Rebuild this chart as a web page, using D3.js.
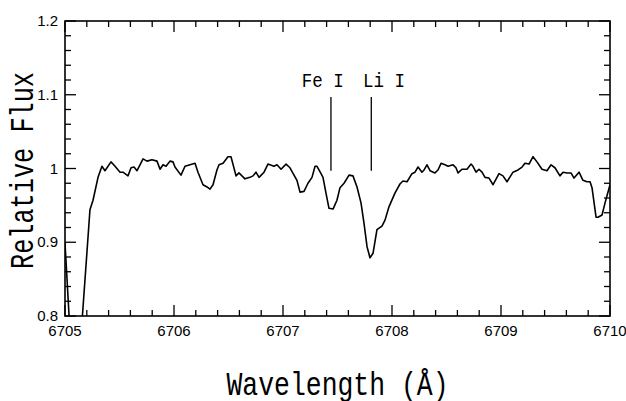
<!DOCTYPE html>
<html>
<head>
<meta charset="utf-8">
<script src="https://cdn.jsdelivr.net/npm/d3@7"></script>
</head>
<body style="margin:0">
<div id="chart"></div>
<script>
// Spectrum (wavelength in Å, relative flux)
const wavelength = [
  6705.000, 6705.045, 6705.150, 6705.229, 6705.257, 6705.303, 6705.339, 6705.367, 6705.422, 6705.459,
  6705.505, 6705.532, 6705.578, 6705.606, 6705.633, 6705.661, 6705.716, 6705.752, 6705.798, 6705.844,
  6705.872, 6705.899, 6705.927, 6705.963, 6705.991, 6706.009, 6706.064, 6706.101, 6706.147, 6706.193,
  6706.220, 6706.266, 6706.303, 6706.330, 6706.358, 6706.394, 6706.413, 6706.450, 6706.495, 6706.523,
  6706.569, 6706.596, 6706.651, 6706.697, 6706.725, 6706.752, 6706.780, 6706.826, 6706.862, 6706.917,
  6706.945, 6706.982, 6707.028, 6707.064, 6707.101, 6707.128, 6707.156, 6707.193, 6707.229, 6707.266,
  6707.294, 6707.312, 6707.349, 6707.367, 6707.394, 6707.422, 6707.459, 6707.495, 6707.523, 6707.560,
  6707.606, 6707.642, 6707.679, 6707.716, 6707.743, 6707.771, 6707.798, 6707.826, 6707.862, 6707.908,
  6707.936, 6707.972, 6708.028, 6708.073, 6708.101, 6708.138, 6708.183, 6708.211, 6708.239, 6708.275,
  6708.294, 6708.321, 6708.349, 6708.394, 6708.422, 6708.450, 6708.486, 6708.514, 6708.560, 6708.587,
  6708.606, 6708.642, 6708.688, 6708.725, 6708.743, 6708.771, 6708.798, 6708.826, 6708.853, 6708.890,
  6708.927, 6708.982, 6709.018, 6709.055, 6709.110, 6709.156, 6709.193, 6709.220, 6709.257, 6709.294,
  6709.330, 6709.376, 6709.422, 6709.459, 6709.495, 6709.541, 6709.569, 6709.606, 6709.642, 6709.670,
  6709.716, 6709.752, 6709.789, 6709.817, 6709.835, 6709.872, 6709.890, 6709.927, 6709.954, 6710.000
];
const flux = [
  0.899, 0.780, 0.780, 0.944, 0.957, 0.988, 1.003, 0.997, 1.009, 1.003,
  0.995, 0.995, 0.990, 1.001, 1.002, 0.997, 1.013, 1.010, 1.012, 1.010,
  0.999, 1.005, 1.003, 1.010, 1.009, 1.002, 0.991, 1.003, 1.005, 1.007,
  0.995, 0.978, 0.975, 0.972, 0.978, 0.998, 1.005, 1.007, 1.016, 1.016,
  0.990, 0.994, 0.986, 0.988, 0.990, 0.995, 0.988, 0.995, 1.006, 1.003,
  1.005, 0.999, 1.006, 1.001, 0.991, 0.984, 0.968, 0.969, 0.980, 0.988,
  1.003, 1.003, 0.993, 0.988, 0.967, 0.946, 0.945, 0.957, 0.974, 0.980,
  0.991, 0.990, 0.975, 0.953, 0.926, 0.894, 0.879, 0.885, 0.917, 0.922,
  0.930, 0.948, 0.967, 0.979, 0.983, 0.982, 0.993, 0.995, 1.002, 0.995,
  0.998, 1.005, 0.997, 0.994, 0.998, 1.007, 1.005, 1.003, 1.005, 1.001,
  0.994, 0.999, 0.999, 1.006, 1.003, 0.995, 0.999, 0.995, 0.988, 0.987,
  0.978, 0.993, 0.990, 0.982, 0.995, 0.998, 1.002, 1.007, 1.006, 1.016,
  1.009, 0.999, 0.997, 1.005, 1.001, 0.990, 0.995, 0.994, 0.994, 0.987,
  0.995, 0.984, 0.982, 0.982, 0.974, 0.934, 0.934, 0.937, 0.953, 0.978
];

// Line identifications
const lineLabels = ["Fe I", "Li I"];
const lineWavelengths = [6707.44, 6707.81];
const lineLabelStart = [6707.173, 6707.733];
const lineFluxTop = 1.097;
const lineFluxBottom = 0.997;
const labelFlux = 1.110;

// Axis ticks
const xTickLabels = ["6705", "6706", "6707", "6708", "6709", "6710"];
const yTickLabels = ["0.8", "0.9", "1", "1.1", "1.2"];
const xDomain = [6705, 6710];
const yDomain = [0.8, 1.2];
const xMinorCount = 25;
const yMinorCount = 20;
const xTitle = "Wavelength (Å)";
const yTitle = "Relative Flux";

const W = 626, H = 401;
const ML = 65, MT = 21, PW = 545, PH = 295;

const svg = d3.select("#chart").append("svg").attr("width", W).attr("height", H);
const g = svg.append("g").attr("transform", "translate(" + ML + "," + MT + ")");

const x = d3.scaleLinear().domain(xDomain).range([0, PW]);
const y = d3.scaleLinear().domain(yDomain).range([PH, 0]);

const majorX = xTickLabels.map(Number);
const majorY = yTickLabels.map(Number);
const allX = d3.range(0, xMinorCount + 1).map(i => xDomain[0] + i * (xDomain[1] - xDomain[0]) / xMinorCount);
const allY = d3.range(0, yMinorCount + 1).map(i => yDomain[0] + i * (yDomain[1] - yDomain[0]) / yMinorCount);
const isMajor = (v, arr) => arr.some(mv => Math.abs(mv - v) < 1e-6);

// frame
g.append("rect").attr("width", PW).attr("height", PH)
  .attr("fill", "none").attr("stroke", "#000").attr("stroke-width", 1.6);

// inward ticks on all four sides
const tg = g.append("g").attr("stroke", "#000").attr("stroke-width", 1.3);
allX.forEach(v => {
  const L = isMajor(v, majorX) ? 11 : 6;
  tg.append("line").attr("x1", x(v)).attr("x2", x(v)).attr("y1", PH).attr("y2", PH - L);
  tg.append("line").attr("x1", x(v)).attr("x2", x(v)).attr("y1", 0).attr("y2", L);
});
allY.forEach(v => {
  const L = isMajor(v, majorY) ? 11 : 6;
  tg.append("line").attr("x1", 0).attr("x2", L).attr("y1", y(v)).attr("y2", y(v));
  tg.append("line").attr("x1", PW).attr("x2", PW - L).attr("y1", y(v)).attr("y2", y(v));
});

// tick labels
majorX.forEach((v, i) => {
  g.append("text").attr("x", x(v)).attr("y", PH + 20)
    .attr("text-anchor", "middle")
    .attr("font-family", "Liberation Sans, Arial, sans-serif")
    .attr("font-size", 15).attr("fill", "#000")
    .text(xTickLabels[i]);
});
majorY.forEach((v, i) => {
  g.append("text").attr("x", -7).attr("y", y(v) + 5)
    .attr("text-anchor", "end")
    .attr("font-family", "Liberation Sans, Arial, sans-serif")
    .attr("font-size", 15).attr("fill", "#000")
    .text(yTickLabels[i]);
});

// spectrum, kept inside the frame by clamping the drawn segment to the plot
const data = wavelength.map((w, i) => [w, flux[i]]);
const clipId = "plotclip";
g.append("clipPath").attr("id", clipId)
  .append("rect").attr("width", PW).attr("height", PH);
g.append("path").datum(data)
  .attr("clip-path", "url(#" + clipId + ")")
  .attr("fill", "none").attr("stroke", "#000").attr("stroke-width", 1.6)
  .attr("stroke-linejoin", "round")
  .attr("d", d3.line().x(d => x(d[0])).y(d => y(d[1])));

// line identifications
lineWavelengths.forEach((w, i) => {
  g.append("line").attr("x1", x(w)).attr("x2", x(w))
    .attr("y1", y(lineFluxTop)).attr("y2", y(lineFluxBottom))
    .attr("stroke", "#000").attr("stroke-width", 1.3);
  g.append("text").attr("x", x(lineLabelStart[i])).attr("y", y(labelFlux))
    .attr("font-family", "Liberation Mono, Courier New, monospace")
    .attr("font-size", 21).attr("fill", "#000")
    .attr("textLength", 42).attr("lengthAdjust", "spacingAndGlyphs")
    .text(lineLabels[i]);
});

// axis titles
svg.append("text").attr("x", ML + PW / 2).attr("y", 395)
  .attr("text-anchor", "middle")
  .attr("font-family", "Liberation Mono, Courier New, monospace")
  .attr("font-size", 34).attr("fill", "#000")
  .attr("textLength", 222).attr("lengthAdjust", "spacingAndGlyphs")
  .text(xTitle);

svg.append("text").attr("transform", "translate(33," + (MT + PH / 2 + 2) + ") rotate(-90)")
  .attr("text-anchor", "middle")
  .attr("font-family", "Liberation Mono, Courier New, monospace")
  .attr("font-size", 34).attr("fill", "#000")
  .attr("textLength", 197).attr("lengthAdjust", "spacingAndGlyphs")
  .text(yTitle);
</script>
</body>
</html>
